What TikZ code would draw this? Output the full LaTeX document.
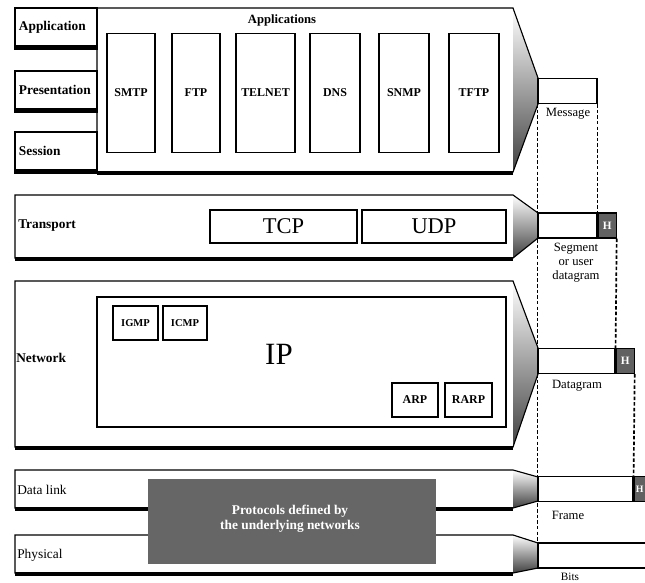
\documentclass[tikz,border=0pt]{standalone}
\usepackage{fontspec}
\setmainfont{Liberation Serif}
\usetikzlibrary{positioning, calc}
\providecommand{\PxUnit}{0.025cm}
\definecolor{netgray}{gray}{0.40}
\definecolor{hdrgray}{gray}{0.38}

% layer body with its funnel: #1 left x, #2 top y, #3 bottom y, #4/#5 funnel end y
\newcommand{\layerbody}[5]{%
  \fill[funnel] (513,#2) -- (538,#4) -- (538,#5) -- (513,#3) -- cycle;
  \draw[line width=0.8pt] (538,#5) -- (513,#3) -- (#1,#3) -- (#1,#2) -- (513,#2) -- (538,#4);
  \draw[shadowline] (#1,#3+1) -- (513,#3+1);
}

\begin{document}
\begin{tikzpicture}[
  x=0.025cm, y=-0.025cm, line join=miter,
  funnel/.style={shade, top color=white, bottom color=black!75},
  shadowline/.style={line width=2.2pt},
  osibox/.style={draw, line width=0.8pt, fill=white, minimum height=38*\PxUnit,
    text width=74*\PxUnit, inner xsep=4*\PxUnit, inner ysep=0pt, align=left,
    font=\fontsize{9.5}{11}\selectfont\bfseries},
  lyrtext/.style={anchor=west, inner sep=0pt, font=\fontsize{9.5}{11}\selectfont},
  protobox/.style={draw, line width=0.8pt, fill=white, inner sep=0pt,
    font=\fontsize{8.5}{10}\selectfont\bfseries},
  pkt/.style={draw, line width=0.8pt, fill=white, minimum height=25*\PxUnit, inner sep=0pt},
  hdr/.style={draw, line width=0.8pt, fill=hdrgray, minimum height=25*\PxUnit,
    minimum width=18*\PxUnit, inner sep=0pt, text=white,
    font=\fontsize{8}{9}\selectfont\bfseries},
  pktlbl/.style={align=center, inner sep=0pt, font=\fontsize{9}{10}\selectfont},
  pktline/.style={line width=1.2pt, dash pattern=on 2.5pt off 1.5pt},
]

\clip (0,0) rectangle (645,583);

% Application, Presentation, Session
\node[osibox] (application) at (56,27) {Application};
\node[osibox] (presentation) at (56,90) {Presentation};
\node[osibox] (session) at (56,151) {Session};
\foreach \n in {application,presentation,session} {
  \draw[shadowline] ([yshift=-1pt]\n.south west) -- ([yshift=-1pt]\n.south east);
}
\layerbody{97}{8}{172}{78}{104}
\node[font=\fontsize{9}{10}\selectfont\bfseries] (apps) at (282,20) {Applications};
\node[protobox, minimum width=48*\PxUnit, minimum height=119*\PxUnit] (smtp) at (131,93) {SMTP};
\node[protobox, minimum width=48*\PxUnit, minimum height=119*\PxUnit] (ftp) at (196,93) {FTP};
\node[protobox, minimum width=59*\PxUnit, minimum height=119*\PxUnit] (telnet) at (265.5,93) {TELNET};
\node[protobox, minimum width=50*\PxUnit, minimum height=119*\PxUnit] (dns) at (335,93) {DNS};
\node[protobox, minimum width=50*\PxUnit, minimum height=119*\PxUnit] (snmp) at (404,93) {SNMP};
\node[protobox, minimum width=50*\PxUnit, minimum height=119*\PxUnit] (tftp) at (474,93) {TFTP};

% Transport
\layerbody{15}{195}{258}{213}{238}
\node[lyrtext, font=\fontsize{9.5}{11}\selectfont\bfseries] (transport) at (18,226) {Transport};
\node[draw, line width=0.8pt, minimum width=147*\PxUnit, minimum height=33*\PxUnit,
  inner sep=0pt, font=\fontsize{16}{18}\selectfont] (tcp) at (283.5,226.5) {TCP};
\node[draw, line width=0.8pt, minimum width=144*\PxUnit, minimum height=33*\PxUnit,
  inner sep=0pt, font=\fontsize{16}{18}\selectfont] (udp) at (434,226.5) {UDP};

% Network
\layerbody{15}{281}{447}{348}{374}
\node[lyrtext, font=\fontsize{9.5}{11}\selectfont\bfseries] (network) at (16,358) {Network};
\node[draw, line width=0.8pt, minimum width=409*\PxUnit, minimum height=130*\PxUnit,
  inner sep=0pt] (ipbox) at (301.5,362) {};
\node[font=\fontsize{22}{24}\selectfont] (ip) at (279,354) {IP};
\node[protobox, minimum width=45*\PxUnit, minimum height=34*\PxUnit,
  font=\fontsize{7.5}{9}\selectfont\bfseries] (igmp) at (135.5,323) {IGMP};
\node[protobox, minimum width=44*\PxUnit, minimum height=34*\PxUnit,
  font=\fontsize{7.5}{9}\selectfont\bfseries] (icmp) at (185,323) {ICMP};
\node[protobox, minimum width=46*\PxUnit, minimum height=34*\PxUnit] (arp) at (415,400) {ARP};
\node[protobox, minimum width=47*\PxUnit, minimum height=34*\PxUnit] (rarp) at (468.5,400) {RARP};

% Data link, Physical
\layerbody{15}{470}{508}{477}{501}
\node[lyrtext] (datalink) at (17,490) {Data link};
\layerbody{15}{535}{573}{543}{568}
\node[lyrtext] (physical) at (17,555) {Physical};
\node[fill=netgray, minimum width=288*\PxUnit, minimum height=85*\PxUnit, inner sep=0pt]
  (underlying) at (292,521.5) {};
\node[text=white, align=center, font=\fontsize{9.5}{11}\selectfont\bfseries]
  (undertext) at (290,519) {Protocols defined by\\the underlying networks};

% Packets
\node[pkt, minimum width=59*\PxUnit] (message) at (567.5,91) {};
\node[pkt, minimum width=59*\PxUnit] (segment) at (567.5,225.5) {};
\node[hdr, right=0pt of segment] (seghdr) {H};
\node[pkt, minimum width=77*\PxUnit] (datagram) at (576.5,361) {};
\node[hdr, right=0pt of datagram] (dghdr) {H};
\node[pkt, minimum width=95*\PxUnit] (frame) at (585.5,489) {};
\node[hdr, right=0pt of frame, minimum width=11*\PxUnit, font=\fontsize{7}{8}\selectfont\bfseries] (frhdr) {H};
\node[pkt, minimum width=125*\PxUnit] (bits) at (600.5,555.5) {};

\draw[pktline] (message.south west) -- (bits.north west);
\draw[pktline] (message.south east) -- (seghdr.north west);
\draw[pktline] (seghdr.south east) -- (dghdr.north west);
\draw[pktline] (dghdr.south east) -- (frhdr.north west);

\node[pktlbl] (msglbl) at (568,114) {Message};
\node[pktlbl] (seglbl) at (576,263) {Segment\\or user\\datagram};
\node[pktlbl] (dglbl) at (577,386) {Datagram};
\node[pktlbl] (frlbl) at (568,515) {Frame};
\node[pktlbl, font=\fontsize{8}{9}\selectfont] (bitslbl) at (570,576.5) {Bits};

\end{tikzpicture}
\end{document}
